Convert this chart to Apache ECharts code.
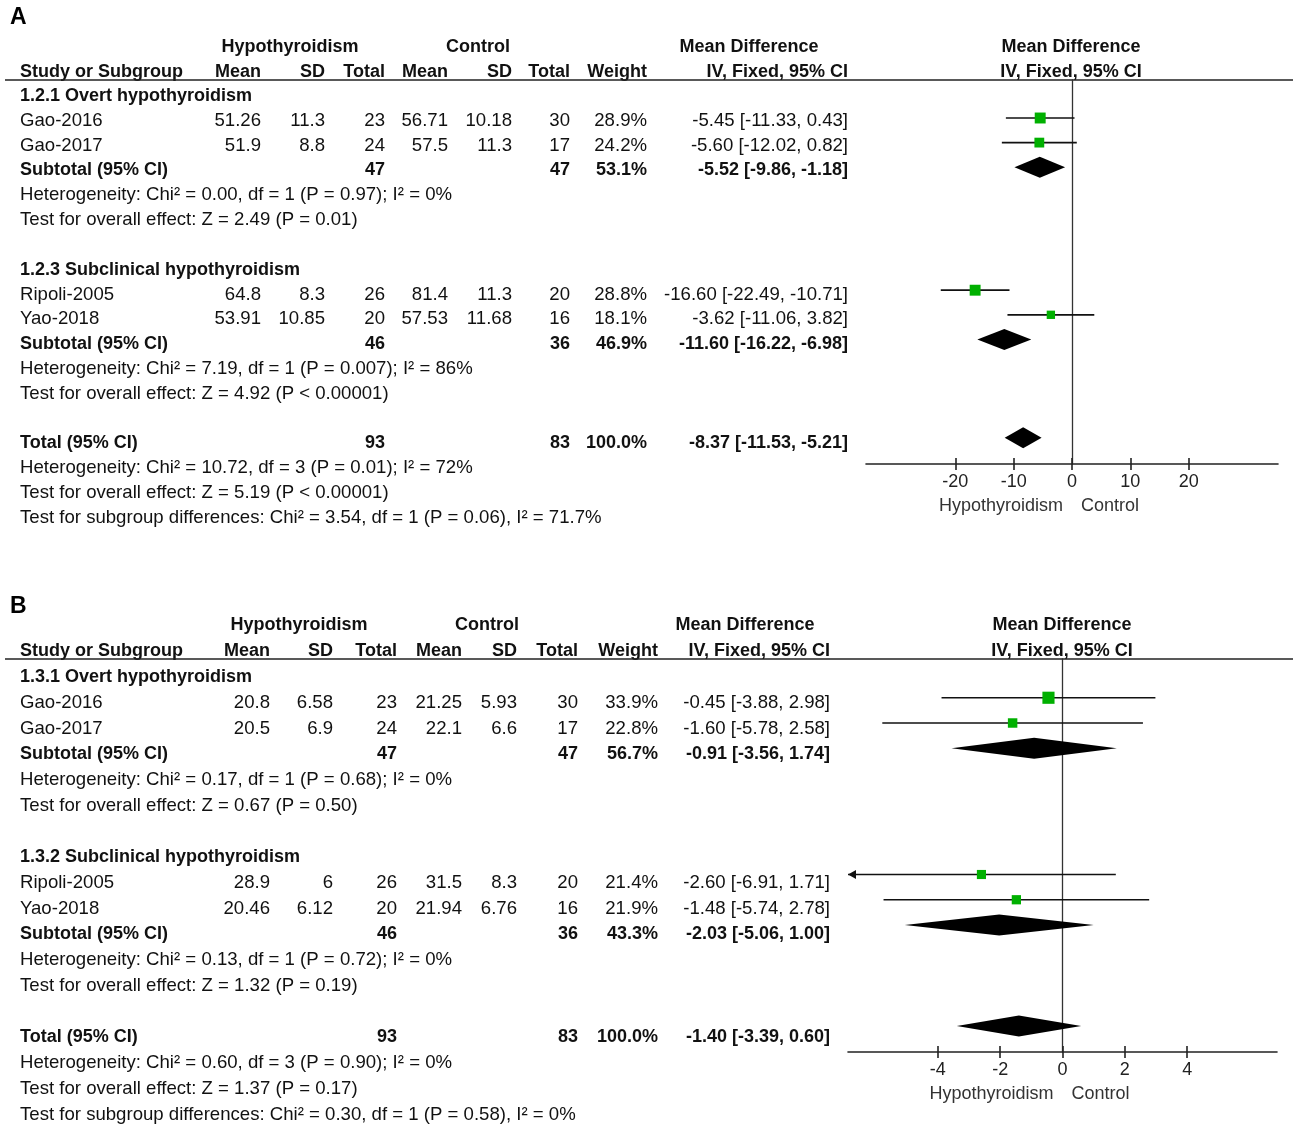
<!DOCTYPE html>
<html>
<head>
<meta charset="utf-8">
<script src="https://cdn.jsdelivr.net/npm/echarts@6/dist/echarts.min.js"></script>
<style>
  html, body { margin: 0; padding: 0; background: #fff; }
  #chart { width: 1299px; height: 1131px; }
</style>
</head>
<body>
<div id="chart"></div>
<script>
// ---- data ----
var studyNames = ['Gao-2016', 'Gao-2017', 'Ripoli-2005', 'Yao-2018'];
var subgroupNamesA = ['1.2.1 Overt hypothyroidism', '1.2.3 Subclinical hypothyroidism'];
var subgroupNamesB = ['1.3.1 Overt hypothyroidism', '1.3.2 Subclinical hypothyroidism'];

// panel A
var hypMeanA = [51.26, 51.9, 64.8, 53.91];
var hypSdA = [11.3, 8.8, 8.3, 10.85];
var hypNA = [23, 24, 26, 20];
var ctlMeanA = [56.71, 57.5, 81.4, 57.53];
var ctlSdA = [10.18, 11.3, 11.3, 11.68];
var ctlNA = [30, 17, 20, 16];
var weightA = [28.9, 24.2, 28.8, 18.1];
var mdA = [-5.45, -5.60, -16.60, -3.62];
var loA = [-11.33, -12.02, -22.49, -11.06];
var hiA = [0.43, 0.82, -10.71, 3.82];
var subHypNA = [47, 46];
var subCtlNA = [47, 36];
var subWeightA = [53.1, 46.9];
var subMdA = [-5.52, -11.60];
var subLoA = [-9.86, -16.22];
var subHiA = [-1.18, -6.98];
var totalNA = [93, 83];
var totalEffA = [100.0, -8.37, -11.53, -5.21]; // weight, md, lo, hi
var statsA = [
  'Heterogeneity: Chi\u00b2 = 0.00, df = 1 (P = 0.97); I\u00b2 = 0%',
  'Test for overall effect: Z = 2.49 (P = 0.01)',
  'Heterogeneity: Chi\u00b2 = 7.19, df = 1 (P = 0.007); I\u00b2 = 86%',
  'Test for overall effect: Z = 4.92 (P < 0.00001)',
  'Heterogeneity: Chi\u00b2 = 10.72, df = 3 (P = 0.01); I\u00b2 = 72%',
  'Test for overall effect: Z = 5.19 (P < 0.00001)',
  'Test for subgroup differences: Chi\u00b2 = 3.54, df = 1 (P = 0.06), I\u00b2 = 71.7%'
];
var ticksA = [-20, -10, 0, 10, 20];

// panel B
var hypMeanB = [20.8, 20.5, 28.9, 20.46];
var hypSdB = [6.58, 6.9, 6, 6.12];
var hypNB = [23, 24, 26, 20];
var ctlMeanB = [21.25, 22.1, 31.5, 21.94];
var ctlSdB = [5.93, 6.6, 8.3, 6.76];
var ctlNB = [30, 17, 20, 16];
var weightB = [33.9, 22.8, 21.4, 21.9];
var mdB = [-0.45, -1.60, -2.60, -1.48];
var loB = [-3.88, -5.78, -6.91, -5.74];
var hiB = [2.98, 2.58, 1.71, 2.78];
var subHypNB = [47, 46];
var subCtlNB = [47, 36];
var subWeightB = [56.7, 43.3];
var subMdB = [-0.91, -2.03];
var subLoB = [-3.56, -5.06];
var subHiB = [1.74, 1.00];
var totalNB = [93, 83];
var totalEffB = [100.0, -1.40, -3.39, 0.60];
var statsB = [
  'Heterogeneity: Chi\u00b2 = 0.17, df = 1 (P = 0.68); I\u00b2 = 0%',
  'Test for overall effect: Z = 0.67 (P = 0.50)',
  'Heterogeneity: Chi\u00b2 = 0.13, df = 1 (P = 0.72); I\u00b2 = 0%',
  'Test for overall effect: Z = 1.32 (P = 0.19)',
  'Heterogeneity: Chi\u00b2 = 0.60, df = 3 (P = 0.90); I\u00b2 = 0%',
  'Test for overall effect: Z = 1.37 (P = 0.17)',
  'Test for subgroup differences: Chi\u00b2 = 0.30, df = 1 (P = 0.58), I\u00b2 = 0%'
];
var ticksB = [-4, -2, 0, 2, 4];

var colHeads = ['Mean', 'SD', 'Total', 'Mean', 'SD', 'Total', 'Weight', 'IV, Fixed, 95% CI'];

// ---- layout ----
var FONT = "'Liberation Sans', Arial, sans-serif";
var GREEN = '#00b000';
var INK = '#111';

var layoutA = {
  letter: 'A', letterY: 18, head1Y: 47, head2Y: 72, lineY: 80,
  row0: 96, rowH: 24.8, markRow0: 93.4, markRowH: 24.6,
  gridLeft: 866, gridRight: 1278, axisY: 464, xMin: -35.3, xMax: 35.3,
  cols: [261, 325, 385, 448, 512, 570, 647, 848],
  hypHeadX: 290, ctlHeadX: 478, mdHeadX: 749, plotHeadX: 1071
};
var layoutB = {
  letter: 'B', letterY: 607, head1Y: 625, head2Y: 651, lineY: 659,
  row0: 677, rowH: 25.75, markRow0: 672.5, markRowH: 25.25,
  gridLeft: 848, gridRight: 1277, axisY: 1052, xMin: -6.88, xMax: 6.88,
  cols: [270, 333, 397, 462, 517, 578, 658, 830],
  hypHeadX: 299, ctlHeadX: 487, mdHeadX: 745, plotHeadX: 1062
};

var panelA = {
  L: layoutA, subNames: subgroupNamesA, hypMean: hypMeanA, hypSd: hypSdA, hypN: hypNA,
  ctlMean: ctlMeanA, ctlSd: ctlSdA, ctlN: ctlNA, weight: weightA, md: mdA, lo: loA, hi: hiA,
  subHypN: subHypNA, subCtlN: subCtlNA, subWeight: subWeightA, subMd: subMdA, subLo: subLoA, subHi: subHiA,
  totalN: totalNA, totalEff: totalEffA, stats: statsA, ticks: ticksA
};
var panelB = {
  L: layoutB, subNames: subgroupNamesB, hypMean: hypMeanB, hypSd: hypSdB, hypN: hypNB,
  ctlMean: ctlMeanB, ctlSd: ctlSdB, ctlN: ctlNB, weight: weightB, md: mdB, lo: loB, hi: hiB,
  subHypN: subHypNB, subCtlN: subCtlNB, subWeight: subWeightB, subMd: subMdB, subLo: subLoB, subHi: subHiB,
  totalN: totalNB, totalEff: totalEffB, stats: statsB, ticks: ticksB
};

var studyRows = [1, 2, 8, 9];
var subRows = [3, 10];
var totalRow = 14;

function ci(m, l, h) {
  return m.toFixed(2) + ' [' + l.toFixed(2) + ', ' + h.toFixed(2) + ']';
}

function txt(x, y, s, align, bold, size, color) {
  var font = (bold ? 'bold ' : '') + (size || (bold ? 18 : 18.6)) + 'px ' + FONT;
  return {
    type: 'text', x: x, y: y, silent: true,
    style: {
      text: s, font: font, fill: color || INK,
      align: align, textAlign: align,
      verticalAlign: 'middle', textVerticalAlign: 'middle'
    }
  };
}

function panelGraphics(P) {
  var L = P.L, c = L.cols, g = [];
  function ry(i) { return L.row0 + i * L.rowH; }
  g.push(txt(10, L.letterY, L.letter, 'left', true, 23, '#000'));
  g.push(txt(L.hypHeadX, L.head1Y, 'Hypothyroidism', 'center', true));
  g.push(txt(L.ctlHeadX, L.head1Y, 'Control', 'center', true));
  g.push(txt(L.mdHeadX, L.head1Y, 'Mean Difference', 'center', true));
  g.push(txt(L.plotHeadX, L.head1Y, 'Mean Difference', 'center', true));
  g.push(txt(20, L.head2Y, 'Study or Subgroup', 'left', true));
  colHeads.forEach(function (h, k) { g.push(txt(c[k], L.head2Y, h, 'right', true)); });
  g.push(txt(L.plotHeadX, L.head2Y, 'IV, Fixed, 95% CI', 'center', true));
  g.push({
    type: 'line', silent: true,
    shape: { x1: 5, y1: L.lineY, x2: 1293, y2: L.lineY },
    style: { stroke: '#222', lineWidth: 1.6 }
  });

  for (var s = 0; s < 2; s++) {
    g.push(txt(20, ry(s * 7), P.subNames[s], 'left', true));
    for (var j = 0; j < 2; j++) {
      var k = s * 2 + j, y = ry(studyRows[k]);
      g.push(txt(20, y, studyNames[k], 'left', false));
      g.push(txt(c[0], y, String(P.hypMean[k]), 'right', false));
      g.push(txt(c[1], y, String(P.hypSd[k]), 'right', false));
      g.push(txt(c[2], y, String(P.hypN[k]), 'right', false));
      g.push(txt(c[3], y, String(P.ctlMean[k]), 'right', false));
      g.push(txt(c[4], y, String(P.ctlSd[k]), 'right', false));
      g.push(txt(c[5], y, String(P.ctlN[k]), 'right', false));
      g.push(txt(c[6], y, P.weight[k].toFixed(1) + '%', 'right', false));
      g.push(txt(c[7], y, ci(P.md[k], P.lo[k], P.hi[k]), 'right', false));
    }
    var sy = ry(subRows[s]);
    g.push(txt(20, sy, 'Subtotal (95% CI)', 'left', true));
    g.push(txt(c[2], sy, String(P.subHypN[s]), 'right', true));
    g.push(txt(c[5], sy, String(P.subCtlN[s]), 'right', true));
    g.push(txt(c[6], sy, P.subWeight[s].toFixed(1) + '%', 'right', true));
    g.push(txt(c[7], sy, ci(P.subMd[s], P.subLo[s], P.subHi[s]), 'right', true));
    g.push(txt(20, ry(s * 7 + 4), P.stats[s * 2], 'left', false));
    g.push(txt(20, ry(s * 7 + 5), P.stats[s * 2 + 1], 'left', false));
  }
  var ty = ry(totalRow);
  g.push(txt(20, ty, 'Total (95% CI)', 'left', true));
  g.push(txt(c[2], ty, String(P.totalN[0]), 'right', true));
  g.push(txt(c[5], ty, String(P.totalN[1]), 'right', true));
  g.push(txt(c[6], ty, P.totalEff[0].toFixed(1) + '%', 'right', true));
  g.push(txt(c[7], ty, ci(P.totalEff[1], P.totalEff[2], P.totalEff[3]), 'right', true));
  g.push(txt(20, ry(15), P.stats[4], 'left', false));
  g.push(txt(20, ry(16), P.stats[5], 'left', false));
  g.push(txt(20, ry(17), P.stats[6], 'left', false));
  return g;
}

// square + CI whisker, arrow when CI leaves the axis range
function renderStudy(params, api) {
  var cs = params.coordSys;
  var m = api.value(0), l = api.value(1), h = api.value(2), r = api.value(3), w = api.value(4);
  var pm = api.coord([m, r]), pl = api.coord([l, r]), ph = api.coord([h, r]);
  var x0 = cs.x, x1 = cs.x + cs.width, y = pm[1];
  var lx = Math.max(pl[0], x0), hx = Math.min(ph[0], x1);
  var side = 4 + 0.24 * w;
  var kids = [{
    type: 'line', shape: { x1: lx, y1: y, x2: hx, y2: y },
    style: { stroke: INK, lineWidth: 1.7 }
  }];
  if (pl[0] < x0) {
    kids.push({ type: 'polygon', shape: { points: [[x0, y], [x0 + 8, y - 4.5], [x0 + 8, y + 4.5]] }, style: { fill: INK } });
  }
  if (ph[0] > x1) {
    kids.push({ type: 'polygon', shape: { points: [[x1, y], [x1 - 8, y - 4.5], [x1 - 8, y + 4.5]] }, style: { fill: INK } });
  }
  kids.push({
    type: 'rect', shape: { x: pm[0] - side / 2, y: y - side / 2, width: side, height: side },
    style: { fill: GREEN }
  });
  return { type: 'group', children: kids };
}

function renderDiamond(params, api) {
  var m = api.value(0), l = api.value(1), h = api.value(2), r = api.value(3);
  var pm = api.coord([m, r]), pl = api.coord([l, r]), ph = api.coord([h, r]);
  var hh = 10.5;
  return {
    type: 'polygon',
    shape: { points: [[pl[0], pm[1]], [pm[0], pm[1] - hh], [ph[0], pm[1]], [pm[0], pm[1] + hh]] },
    style: { fill: '#000' }
  };
}

function panelSeriesData(P) {
  var studies = studyRows.map(function (row, k) {
    return [P.md[k], P.lo[k], P.hi[k], row, P.weight[k]];
  });
  var diamonds = subRows.map(function (row, s) {
    return [P.subMd[s], P.subLo[s], P.subHi[s], row];
  });
  diamonds.push([P.totalEff[1], P.totalEff[2], P.totalEff[3], totalRow]);
  return { studies: studies, diamonds: diamonds };
}

var panels = [panelA, panelB];
var grids = [], xAxes = [], yAxes = [], series = [], graphics = [];

panels.forEach(function (P, i) {
  var L = P.L;
  grids.push({
    left: L.gridLeft, width: L.gridRight - L.gridLeft,
    top: L.lineY, height: L.axisY - L.lineY
  });
  xAxes.push({
    type: 'value', gridIndex: i, min: L.xMin, max: L.xMax, position: 'bottom',
    axisLine: { onZero: false, lineStyle: { color: '#222', width: 1.6 } },
    axisTick: { customValues: P.ticks, length: 6, lineStyle: { color: '#222', width: 1.6 } },
    axisLabel: { customValues: P.ticks, margin: 9, color: '#222', fontSize: 18, fontFamily: FONT },
    splitLine: { show: false }
  });
  xAxes.push({
    type: 'value', gridIndex: i, min: L.xMin, max: L.xMax, position: 'bottom',
    axisLine: { show: false, onZero: false },
    axisTick: { customValues: P.ticks, inside: true, length: 6, lineStyle: { color: '#222', width: 1.6 } },
    axisLabel: { show: false },
    splitLine: { show: false }
  });
  yAxes.push({
    type: 'value', gridIndex: i, inverse: true,
    min: (L.lineY - L.markRow0) / L.markRowH,
    max: (L.axisY - L.markRow0) / L.markRowH,
    axisLine: { show: true, onZero: true, lineStyle: { color: '#333', width: 1.3 } },
    axisTick: { show: false }, axisLabel: { show: false }, splitLine: { show: false }
  });
  var d = panelSeriesData(P);
  series.push({
    type: 'custom', name: 'studies' + i, xAxisIndex: i * 2, yAxisIndex: i,
    renderItem: renderStudy, data: d.studies, clip: false, silent: true,
    encode: { x: [0, 1, 2], y: 3 }, z: 5
  });
  series.push({
    type: 'custom', name: 'pooled' + i, xAxisIndex: i * 2, yAxisIndex: i,
    renderItem: renderDiamond, data: d.diamonds, clip: false, silent: true,
    encode: { x: [0, 1, 2], y: 3 }, z: 5
  });
  graphics = graphics.concat(panelGraphics(P));
});

var dom = document.getElementById('chart');
var myChart = echarts.init(dom, null, { renderer: 'canvas' });
var option = {
  animation: false,
  backgroundColor: '#fff',
  grid: grids,
  xAxis: xAxes,
  yAxis: yAxes,
  series: series,
  graphic: graphics
};
myChart.setOption(option);

// favour labels under the x axis, placed around the zero line
var favour = [];
panels.forEach(function (P, i) {
  var zx = myChart.convertToPixel({ xAxisIndex: i * 2 }, 0);
  var y = P.L.axisY + 42;
  favour.push(txt(zx - 9, y, 'Hypothyroidism', 'right', false, 18, '#333'));
  favour.push(txt(zx + 9, y, 'Control', 'left', false, 18, '#333'));
});
myChart.setOption({ graphic: graphics.concat(favour) });
window.addEventListener('resize', myChart.resize);
</script>
</body>
</html>
